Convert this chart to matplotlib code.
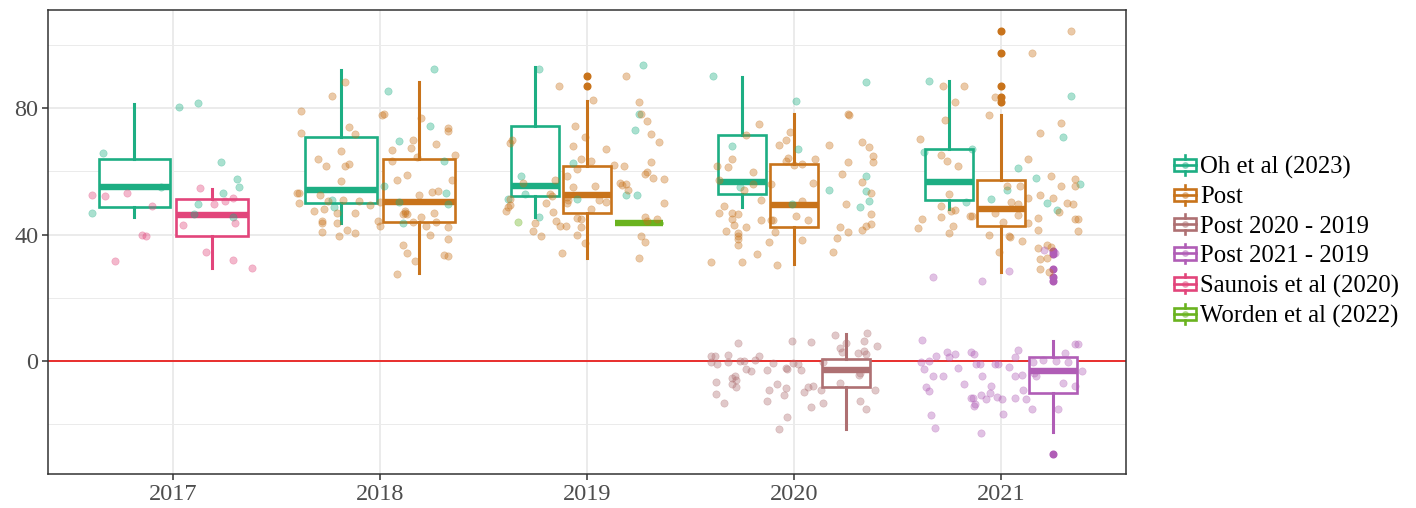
import matplotlib.pyplot as plt
from matplotlib.legend_handler import HandlerBase
from matplotlib.patches import Rectangle
from matplotlib.lines import Line2D

plt.rcParams['font.family'] = ['Liberation Serif', 'DejaVu Serif']

years = [2017, 2018, 2019, 2020, 2021]
groups = ["Oh et al (2023)", "Post", "Post 2020 - 2019", "Post 2021 - 2019",
          "Saunois et al (2020)", "Worden et al (2022)"]
colors = ['#1DAE83', '#C8731B', '#AE7072', '#B05DB6', '#E2457B', '#6AB31F']

# box stats per group: year -> (whisker low, q1, median, q3, whisker high)
oh_box = {2017: (45.6, 48.8, 55.0, 63.8, 81.4), 2018: (43.7, 50.0, 54.1, 70.8, 92.0),
          2019: (45.6, 52.2, 55.5, 74.4, 93.1), 2020: (48.8, 52.8, 56.6, 71.5, 89.9),
          2021: (48.0, 50.9, 56.7, 67.1, 88.5)}
post_box = {2018: (27.7, 44.0, 50.2, 63.9, 88.2), 2019: (32.7, 46.7, 52.6, 61.8, 82.2),
            2020: (30.6, 42.3, 49.4, 62.2, 78.0), 2021: (28.2, 42.7, 48.1, 57.2, 77.8)}
diff20_box = {2020: (-21.6, -8.3, -2.9, 0.8, 8.5)}
diff21_box = {2021: (-22.5, -10.2, -3.1, 1.3, 6.4)}
saunois_box = {2017: (29.5, 39.6, 46.1, 51.4, 54.4)}
worden_box = {2019: (43.8, 43.8, 43.8, 43.8, 43.8)}

post_fliers = {2019: [86.9, 90.1], 2021: [82.0, 83.5, 87.1, 97.4, 104.3]}
diff21_fliers = {2021: [-29.4, 25.3, 26.7, 29.0, 34.0, 34.9]}

# jittered observations: (jitter offset in years, value)
oh_pts = {
    2017: [(-0.34, 65.7), (-0.39, 46.7), (0.03, 80.3), (0.12, 81.6), (0.23, 62.9), (0.31, 57.6),
           (0.32, 54.9), (0.24, 53.2), (0.12, 49.7), (0.29, 45.6), (0.10, 46.4), (-0.06, 55.0)],
    2018: [(0.04, 85.5), (0.26, 92.2), (0.24, 74.2), (0.09, 69.6), (0.31, 63.3), (0.02, 55.4),
           (0.32, 53.0), (0.33, 49.6), (0.09, 50.2), (0.11, 43.5), (-0.23, 50.8), (-0.22, 48.8)],
    2019: [(-0.23, 92.4), (-0.32, 58.5), (-0.30, 52.8), (-0.38, 51.3), (-0.23, 45.7), (-0.07, 62.6),
           (-0.05, 51.2), (0.27, 93.5), (0.25, 78.0), (0.23, 73.2), (0.19, 52.5), (0.24, 52.5)],
    2020: [(-0.39, 90.1), (-0.30, 68.1), (-0.26, 55.1), (0.01, 82.3), (0.02, 67.0), (0.17, 54.2),
           (0.35, 88.1), (0.35, 58.6), (0.35, 53.8), (0.36, 50.7), (0.32, 48.6), (-0.01, 49.6)],
    2021: [(-0.35, 88.6), (-0.37, 66.1), (-0.17, 50.3), (-0.14, 67.0), (-0.05, 51.4), (0.03, 54.1),
           (0.08, 61.2), (0.17, 57.8), (0.22, 50.1), (0.27, 47.8), (0.30, 70.9), (0.34, 83.9),
           (0.38, 55.9)],
}
post_pts = {
    2018: [(-0.38, 79.2), (-0.38, 72.0), (-0.40, 53.3), (-0.39, 53.3), (-0.39, 50.0), (-0.30, 63.9),
           (-0.26, 61.7), (-0.19, 66.3), (-0.17, 61.7), (-0.15, 62.3), (-0.19, 57.0), (-0.23, 83.7),
           (-0.17, 88.3), (-0.15, 74.1), (-0.12, 71.9), (-0.29, 52.6), (-0.25, 50.6), (-0.18, 50.9),
           (-0.10, 50.6), (-0.05, 49.4), (-0.32, 47.6), (-0.27, 48.2), (-0.21, 46.9), (-0.12, 46.7),
           (-0.28, 44.4), (-0.28, 43.5), (-0.21, 43.7), (-0.16, 41.6), (-0.28, 40.7), (-0.20, 39.5),
           (-0.12, 40.6), (-0.01, 44.3), (0.00, 42.8), (0.00, 50.2), (0.01, 77.9), (0.02, 78.1),
           (0.06, 63.4), (0.08, 57.4), (0.06, 66.6), (0.16, 69.9), (0.15, 67.3), (0.13, 58.7),
           (0.20, 76.7), (0.18, 64.6), (0.27, 68.6), (0.33, 73.7), (0.33, 72.9), (0.36, 65.2),
           (0.35, 57.2), (0.25, 53.5), (0.28, 53.9), (0.19, 52.4), (0.26, 46.7), (0.12, 47.5),
           (0.12, 46.7), (0.11, 46.4), (0.13, 46.4), (0.20, 45.6), (0.16, 43.9), (0.22, 42.8),
           (0.27, 44.0), (0.33, 42.5), (0.24, 39.9), (0.33, 38.7), (0.11, 36.7), (0.13, 34.1),
           (0.17, 31.8), (0.08, 27.6), (0.31, 33.5), (0.33, 33.1)],
    2019: [(-0.37, 68.8), (-0.36, 69.9), (-0.39, 47.4), (-0.38, 48.6), (-0.37, 49.3), (-0.37, 51.1),
           (-0.31, 56.2), (-0.155, 57.2), (-0.135, 86.9), (-0.18, 52.7), (-0.17, 52.1), (-0.20, 50.0),
           (-0.165, 47.1), (-0.15, 44.2), (-0.13, 42.7), (-0.10, 42.6), (-0.26, 41.0), (-0.25, 43.5),
           (-0.22, 39.5), (-0.12, 34.2), (-0.06, 74.3), (-0.07, 68.0), (-0.01, 70.8), (-0.095, 58.5),
           (-0.095, 49.9), (-0.09, 50.9), (-0.095, 52.0), (-0.07, 55.0), (-0.05, 60.7), (-0.03, 64.0),
           (0.02, 63.4), (0.03, 82.4), (0.09, 67.0), (0.04, 55.4), (0.06, 50.8), (0.09, 50.2),
           (0.02, 48.2), (-0.05, 45.2), (-0.03, 44.8), (-0.03, 42.4), (-0.05, 39.9), (-0.01, 37.2),
           (0.19, 90.1), (0.25, 81.9), (0.26, 78.1), (0.29, 76.0), (0.31, 71.8), (0.35, 69.4),
           (0.31, 63.1), (0.13, 62.1), (0.18, 61.6), (0.28, 59.2), (0.29, 59.8), (0.32, 58.0),
           (0.37, 57.6), (0.16, 56.4), (0.17, 55.6), (0.19, 56.0), (0.20, 54.1), (0.37, 50.0),
           (0.28, 45.6), (0.29, 44.3), (0.34, 45.0), (0.26, 39.6), (0.28, 37.8), (0.25, 32.7)],
    2020: [(-0.40, 31.2), (-0.37, 61.8), (-0.32, 61.5), (-0.36, 57.2), (-0.30, 63.8), (-0.34, 49.0),
           (-0.36, 46.9), (-0.30, 46.9), (-0.30, 45.0), (-0.27, 46.6), (-0.33, 41.0), (-0.29, 42.9),
           (-0.23, 42.5), (-0.27, 40.4), (-0.27, 39.4), (-0.27, 38.5), (-0.27, 36.8), (-0.25, 31.3),
           (-0.18, 33.7), (-0.23, 71.6), (-0.17, 75.0), (-0.20, 59.9), (-0.20, 55.9), (-0.24, 54.0),
           (-0.16, 51.0), (-0.16, 44.6), (-0.12, 37.5), (-0.08, 30.4), (-0.11, 44.5), (-0.10, 44.5),
           (-0.09, 40.9), (-0.11, 55.9), (-0.07, 68.4), (-0.04, 69.8), (-0.02, 72.3), (-0.03, 64.1),
           (-0.04, 63.2), (0.00, 61.9), (0.04, 62.3), (0.09, 56.3), (0.01, 45.9), (0.04, 38.3),
           (0.04, 50.5), (0.07, 44.5), (0.10, 63.9), (0.26, 78.1), (0.265, 77.8), (0.17, 68.4),
           (0.26, 62.9), (0.23, 59.0), (0.25, 49.7), (0.22, 42.3), (0.26, 40.7), (0.21, 38.9),
           (0.19, 34.6), (0.33, 69.4), (0.36, 67.7), (0.38, 64.7), (0.38, 62.8), (0.33, 56.7),
           (0.37, 53.3), (0.37, 46.4), (0.33, 41.5), (0.35, 42.7), (0.37, 43.3)],
    2021: [(-0.39, 70.3), (-0.28, 86.9), (-0.18, 87.0), (-0.22, 82.0), (-0.27, 76.2), (-0.29, 65.0),
           (-0.26, 63.2), (-0.21, 61.7), (-0.25, 52.8), (-0.29, 49.1), (-0.24, 47.5), (-0.22, 47.9),
           (-0.29, 45.5), (-0.38, 45.0), (-0.40, 42.0), (-0.23, 42.8), (-0.25, 40.6), (-0.15, 45.9),
           (-0.14, 45.9), (-0.03, 83.4), (-0.06, 77.8), (-0.06, 39.8), (0.04, 39.5), (0.045, 39.1),
           (-0.01, 34.4), (-0.03, 46.7), (0.01, 43.9), (0.08, 46.2), (0.05, 50.4), (0.08, 49.6),
           (0.03, 55.4), (0.09, 55.3), (0.10, 38.0), (0.13, 64.0), (0.13, 51.6), (0.13, 43.7),
           (0.15, 97.4), (0.19, 72.2), (0.24, 58.5), (0.29, 55.5), (0.19, 52.4), (0.25, 51.6),
           (0.18, 45.2), (0.18, 41.4), (0.28, 47.0), (0.29, 75.4), (0.18, 35.6), (0.19, 32.3),
           (0.22, 36.7), (0.22, 32.6), (0.24, 36.0), (0.23, 28.2), (0.19, 29.0), (0.34, 104.3),
           (0.32, 50.0), (0.35, 49.8), (0.36, 57.6), (0.36, 55.3), (0.36, 45.0), (0.37, 45.0),
           (0.37, 41.2)],
}
diff20_pts = {
    2020: [(-0.40, 1.6), (-0.38, 1.6), (-0.40, -0.2), (-0.37, -1.0), (-0.32, 1.9), (-0.32, -0.2),
           (-0.26, 0.1), (-0.24, 0.0), (-0.17, 1.6), (-0.19, 0.5), (-0.23, -2.5), (-0.21, -3.0),
           (-0.27, 5.8), (-0.375, -6.7), (-0.30, -5.3), (-0.285, -4.6), (-0.28, -6.0), (-0.30, -7.3),
           (-0.28, -8.3), (-0.375, -10.4), (-0.34, -13.1), (-0.13, -2.9), (-0.10, -0.5),
           (-0.04, -2.2), (-0.035, -2.6), (-0.01, 6.5), (-0.007, -0.7), (0.02, -1.0), (0.035, -2.9),
           (0.08, 6.1), (-0.12, -9.0), (-0.08, -7.3), (-0.04, -8.4), (-0.05, -10.7), (-0.13, -12.6),
           (-0.035, -17.6), (-0.07, -21.6), (0.05, -9.7), (0.07, -8.3), (0.09, -7.9), (0.08, -14.4),
           (0.14, -13.2), (0.13, -9.0), (0.14, -0.2), (0.20, 8.4), (0.22, 4.0), (0.23, 2.9),
           (0.25, 5.8), (0.31, 2.6), (0.34, 3.2), (0.35, 2.2), (0.355, 8.9), (0.34, 6.4), (0.40, 4.8),
           (0.32, -3.9), (0.315, -4.4), (0.22, -6.9), (0.39, -9.0), (0.32, -12.6), (0.35, -15.0)],
}
diff21_pts = {
    2021: [(-0.38, 6.6), (-0.385, -0.2), (-0.35, 0.1), (-0.37, -2.6), (-0.315, 1.6), (-0.26, 3.0),
           (-0.25, 1.4), (-0.22, 2.1), (-0.33, -4.7), (-0.28, -4.6), (-0.21, -2.2), (-0.36, -8.3),
           (-0.35, -9.4), (-0.18, -7.1), (-0.145, 3.0), (-0.13, 2.1), (-0.12, -0.8), (-0.10, -0.9),
           (-0.09, -4.7), (-0.05, -7.8), (-0.054, -10.2), (-0.096, -10.8), (-0.146, -11.8),
           (-0.133, -11.8), (-0.07, -12.0), (-0.13, -14.2), (-0.124, -13.7), (-0.027, -0.9),
           (-0.016, -1.0), (-0.017, -11.3), (0.005, -12.0), (0.011, -16.7), (0.04, -1.9),
           (0.07, -4.7), (0.10, -4.4), (0.068, 1.4), (0.08, 3.5), (0.108, -9.2), (0.068, -11.6),
           (0.12, -11.9), (0.15, -15.3), (-0.338, -17.2), (-0.32, -21.2), (-0.095, -22.6),
           (0.157, -0.2), (0.205, 0.5), (0.264, 0.0), (0.325, -0.2), (0.31, 2.5), (0.357, 5.3),
           (0.37, 5.5), (0.39, -3.0), (0.30, -6.9), (0.357, -7.8), (0.274, -15.0), (0.16, -3.9),
           (0.17, -4.8), (-0.33, 26.5), (-0.09, 25.4), (0.04, 28.5), (0.21, 35.2), (0.26, 34.2)],
}
saunois_pts = {
    2017: [(-0.39, 52.5), (-0.33, 52.3), (-0.22, 53.0), (-0.10, 49.0), (-0.15, 40.0), (-0.13, 39.5),
           (-0.28, 31.5), (0.13, 54.6), (0.20, 49.7), (0.25, 50.7), (0.29, 51.6), (0.05, 43.0),
           (0.30, 43.8), (0.16, 34.4), (0.29, 31.9), (0.38, 29.3)],
}
worden_pts = {2019: [(-0.335, 43.9)]}

boxes = [oh_box, post_box, diff20_box, diff21_box, saunois_box, worden_box]
fliers = [{}, post_fliers, {}, diff21_fliers, {}, {}]
points = [oh_pts, post_pts, diff20_pts, diff21_pts, saunois_pts, worden_pts]


class BoxKey(HandlerBase):
    # ggplot-like legend key: small box with median, whisker stubs and a dot
    def create_artists(self, legend, orig_handle, xdescent, ydescent, width, height,
                       fontsize, trans):
        c = orig_handle.get_color()
        x0, y0 = -xdescent, -ydescent
        cx, cy = x0 + width / 2, y0 + height / 2
        rect = Rectangle((x0 + 1, y0 + height * 0.12), width - 2, height * 0.76,
                         facecolor='white', edgecolor=c, lw=1.9, transform=trans)
        med = Line2D([x0 + 1, x0 + width - 1], [cy, cy], color=c, lw=1.9, transform=trans)
        w1 = Line2D([cx, cx], [y0 + height * 0.88, y0 + height * 1.12], color=c, lw=1.9,
                    transform=trans)
        w2 = Line2D([cx, cx], [y0 - height * 0.12, y0 + height * 0.12], color=c, lw=1.9,
                    transform=trans)
        dot = Line2D([cx], [cy], marker='o', markersize=4, color=c, alpha=0.4, lw=0,
                     transform=trans)
        return [rect, med, w1, w2, dot]


fig = plt.figure(figsize=(14.16, 5.08), dpi=100)
ax = fig.add_axes([48 / 1416, 1 - 474 / 508, (1126 - 48) / 1416, (474 - 10) / 508])

ax.axhline(0, color='#E8201E', lw=1.3, zorder=1.5)

dodge = 0.75
for year in years:
    present = [i for i in range(len(groups)) if year in boxes[i]]
    slot = dodge / len(present)
    for k, i in enumerate(present):
        pos = year - dodge / 2 + slot * (k + 0.5)
        lo, q1, med, q3, hi = boxes[i][year]
        st = dict(whislo=lo, q1=q1, med=med, q3=q3, whishi=hi,
                  fliers=fliers[i].get(year, []))
        c = colors[i]
        ax.bxp([st], positions=[pos], widths=[slot * 0.92], patch_artist=True,
               showcaps=False, manage_ticks=False,
               boxprops=dict(facecolor='white', edgecolor=c, lw=1.9),
               whiskerprops=dict(color=c, lw=2.2),
               medianprops=dict(color=c, lw=4.6, solid_capstyle='butt'),
               flierprops=dict(marker='o', markerfacecolor=c, markeredgecolor=c,
                               markersize=4.8),
               zorder=2)

for i in range(len(groups)):
    for year, pts in points[i].items():
        xs = [year + p[0] for p in pts]
        ys = [p[1] for p in pts]
        ax.scatter(xs, ys, s=28, color=colors[i], edgecolors=colors[i], alpha=0.38,
                   lw=0.4, zorder=3)

ax.set_xlim(2016.396, 2021.604)
ax.set_ylim(-35.7, 111.0)
ax.set_xticks(years)
ax.set_yticks([0, 40, 80])
ax.set_yticks([-20, 20, 60, 100], minor=True)
ax.tick_params(axis='both', which='major', direction='out', length=4, width=1.1,
               color='#333333', labelcolor='#4D4D4D', labelsize=17.5, pad=3)
ax.tick_params(axis='y', which='minor', length=0)
ax.grid(which='major', color='#EBEBEB', lw=1.4, zorder=0)
ax.grid(which='minor', axis='y', color='#EBEBEB', lw=0.7, zorder=0)
ax.set_axisbelow(True)
for s in ax.spines.values():
    s.set_color('#333333')
    s.set_linewidth(1.1)

handles = [Line2D([], [], color=c) for c in colors]
fig.legend(handles, groups, handler_map={Line2D: BoxKey()}, loc='center left',
           bbox_to_anchor=(1173 / 1416, 1 - 242 / 508), frameon=False, fontsize=17.8,
           handlelength=1.0, handleheight=0.62, handletextpad=0.1, labelspacing=0.3,
           borderpad=0, borderaxespad=0)

fig.savefig('out.png', dpi=100)
